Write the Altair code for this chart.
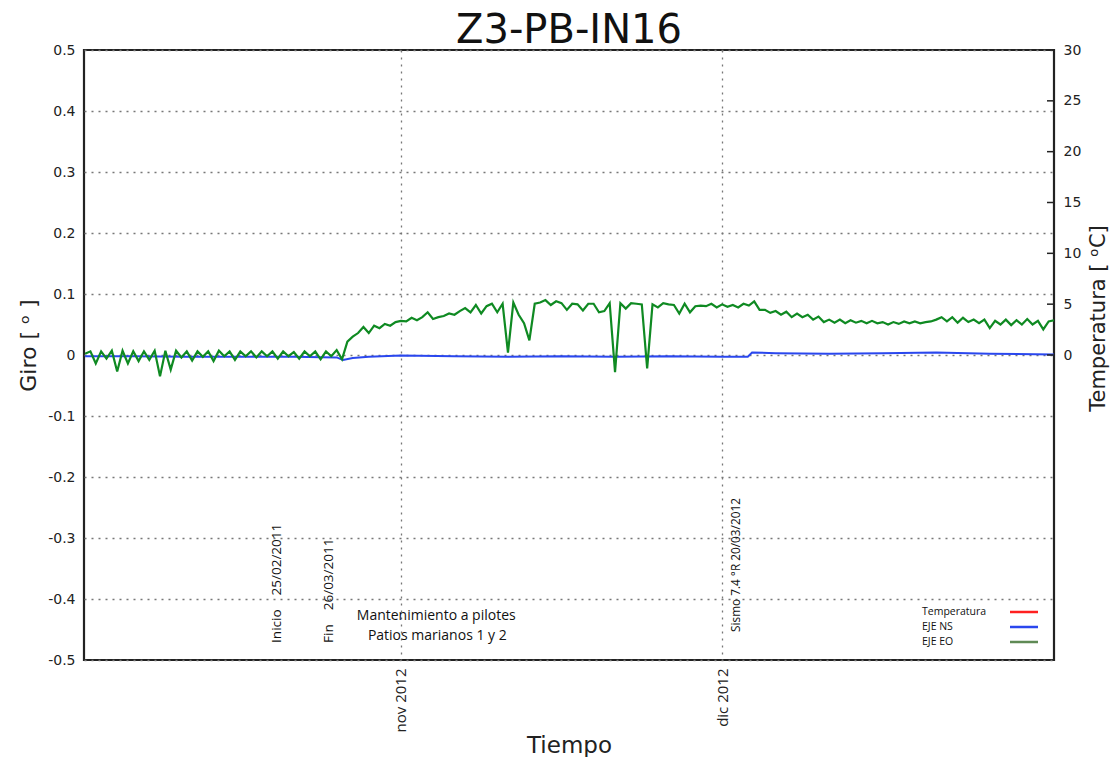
import altair as alt
import pandas as pd

# ---------------- data ----------------
# days relative to 1 nov 2012 ; EJE EO sampled every half day from day -29.5
eo_dia_inicio = -29.5
eo_paso = 0.5
eje_eo = [
    0.002, 0.006, -0.014, 0.006, -0.006, 0.007, -0.027, 0.007, -0.014, 0.006,
    -0.010, 0.006, -0.008, 0.007, -0.035, 0.007, -0.024, 0.007, -0.004, 0.006,
    -0.009, 0.006, -0.003, 0.006, -0.010, 0.007, -0.002, 0.006, -0.008, 0.006,
    -0.002, 0.006, -0.004, 0.006, -0.002, 0.006, -0.006, 0.006, -0.002, 0.005,
    -0.006, 0.006, -0.002, 0.006, -0.007, 0.006, -0.002, 0.008, -0.007, 0.022,
    0.030, 0.036, 0.046, 0.036, 0.048, 0.044, 0.051, 0.048, 0.054, 0.056,
    0.055, 0.061, 0.057, 0.062, 0.070, 0.059, 0.062, 0.064, 0.068, 0.066,
    0.072, 0.077, 0.070, 0.082, 0.068, 0.080, 0.084, 0.070, 0.084, 0.004,
    0.086, 0.066, 0.052, 0.024, 0.084, 0.086, 0.090, 0.082, 0.088, 0.085,
    0.074, 0.084, 0.083, 0.073, 0.084, 0.084, 0.070, 0.072, 0.085, -0.028,
    0.085, 0.076, 0.085, 0.084, 0.083, -0.022, 0.083, 0.078, 0.085, 0.083,
    0.082, 0.068, 0.084, 0.070, 0.080, 0.081, 0.080, 0.084, 0.078, 0.083,
    0.079, 0.082, 0.078, 0.084, 0.081, 0.088, 0.074, 0.074, 0.069, 0.072,
    0.066, 0.071, 0.062, 0.068, 0.062, 0.066, 0.058, 0.063, 0.054, 0.058,
    0.053, 0.058, 0.052, 0.057, 0.053, 0.056, 0.052, 0.056, 0.052, 0.054,
    0.050, 0.054, 0.051, 0.055, 0.052, 0.055, 0.052, 0.054, 0.055, 0.058,
    0.062, 0.055, 0.062, 0.053, 0.061, 0.054, 0.058, 0.052, 0.058, 0.044,
    0.056, 0.050, 0.058, 0.049, 0.057, 0.050, 0.059, 0.050, 0.056, 0.042,
    0.055, 0.057,
]

eje_ns_dia = [-29.5, -25, -20, -15, -10, -6, -5.4, -4.5, -3, 0,
              5, 10, 15, 20, 25, 30, 32.4, 32.8, 35, 40,
              45, 50, 55, 61]
eje_ns = [-0.002, -0.002, -0.003, -0.003, -0.003, -0.004, -0.008, -0.005, -0.003, -0.001,
          -0.002, -0.003, -0.002, -0.003, -0.002, -0.003, -0.003, 0.004, 0.003, 0.002,
          0.003, 0.004, 0.002, 0.001]

x_tick_pos = [0, 30]
x_tick_labels = ["nov 2012", "dic 2012"]
y_ticks = [-0.5, -0.4, -0.3, -0.2, -0.1, 0, 0.1, 0.2, 0.3, 0.4, 0.5]
temp_ticks = [0, 5, 10, 15, 20, 25, 30]

NB = "\u00a0"
vert_text = [f"Inicio{NB*4}25/02/2011", f"Fin{NB*4}26/03/2011"]
vert_dia = [-11.6, -6.75]
vert_giro = [-0.472, -0.472]

sismo_text = ["Sismo 7.4 °R 20/03/2012"]
sismo_dia = [31.3]
sismo_giro = [-0.454]

horiz_text = ["Mantenimiento a pilotes", "Patios marianos 1 y 2"]
horiz_dia = [3.3, 3.4]
horiz_giro = [-0.428, -0.461]

legend_labels = ["Temperatura", "EJE NS", "EJE EO"]
legend_colors = ["#ff2020", "#2a47ee", "#5f8a55"]

# ---------------- frames ----------------
df_eo = pd.DataFrame({"dia": [eo_dia_inicio + eo_paso * i for i in range(len(eje_eo))],
                      "giro": eje_eo})
df_ns = pd.DataFrame({"dia": eje_ns_dia, "giro": eje_ns})
df_vert = pd.DataFrame({"dia": vert_dia, "giro": vert_giro, "t": vert_text})
df_sismo = pd.DataFrame({"dia": sismo_dia, "giro": sismo_giro, "t": sismo_text})
df_horiz = pd.DataFrame({"dia": horiz_dia, "giro": horiz_giro, "t": horiz_text})
df_temp = pd.DataFrame({"temp": temp_ticks})

X_DOMAIN = [-29.6, 61.0]
Y_DOMAIN = [-0.5, 0.5]

label_expr = " : ".join(
    [f"datum.value == {p} ? '{l}'" for p, l in zip(x_tick_pos, x_tick_labels)]
) + " : ''"

x_axis = alt.Axis(
    values=x_tick_pos, labelExpr=label_expr, title="Tiempo",
    grid=True, gridDash=[2, 5], gridColor="#777", gridWidth=1.3,
    ticks=False, domain=False, labelAngle=270, labelAlign="right",
    labelBaseline="middle", labelPadding=8, labelFont="Open Sans",
    labelFontSize=15, labelColor="#222", titleFont="DejaVu Sans",
    titleFontSize=23, titleFontWeight="normal", titleColor="#222",
    titleY=92, titleBaseline="alphabetic",
)
y_axis = alt.Axis(
    values=y_ticks,
    labelExpr=("datum.value == 0 ? '0' : (datum.value < 0 ? '-' + format(-datum.value, '.1f')"
               " : format(datum.value, '.1f'))"),
    title="Giro  [ ᵒ ]", grid=True, gridDash=[2, 5], gridColor="#777",
    gridWidth=1.3, ticks=False, domain=False, labelPadding=9,
    labelFont="DejaVu Sans", labelFontSize=14, labelColor="#222",
    titleFont="DejaVu Sans", titleFontSize=22, titleFontWeight="normal",
    titleColor="#222", titleX=-56, titleY=295, titleBaseline="middle", titleAngle=270,
)

x_scale = alt.Scale(domain=X_DOMAIN, nice=False, zero=False)
y_scale = alt.Scale(domain=Y_DOMAIN, nice=False, zero=False)
X = alt.X("dia:Q", scale=x_scale, axis=x_axis)
Y = alt.Y("giro:Q", scale=y_scale, axis=y_axis)

ns_line = alt.Chart(df_ns).mark_line(color="#2a47ee", strokeWidth=2).encode(x=X, y=Y)
eo_line = alt.Chart(df_eo).mark_line(color="#0f8a22", strokeWidth=2.2).encode(x=X, y=Y)

vert_marks = alt.Chart(df_vert).mark_text(
    angle=270, align="left", baseline="middle", font="Open Sans",
    fontSize=13.5, color="#111").encode(x=X, y=Y, text="t:N")
sismo_marks = alt.Chart(df_sismo).mark_text(
    angle=270, align="left", baseline="middle", font="Open Sans",
    fontSize=11.8, color="#111").encode(x=X, y=Y, text="t:N")
horiz_marks = alt.Chart(df_horiz).mark_text(
    align="center", baseline="middle", font="Open Sans",
    fontSize=14, color="#111").encode(x=X, y=Y, text="t:N")

legend_layers = []
for i, (lab, col) in enumerate(zip(legend_labels, legend_colors)):
    ypix = 562 + 15 * i
    legend_layers.append(
        alt.Chart(alt.Data(values=[{}])).mark_text(
            align="left", baseline="middle", font="Open Sans", fontSize=10.5,
            color="#111").encode(x=alt.value(838), y=alt.value(ypix), text=alt.value(lab)))
    legend_layers.append(
        alt.Chart(alt.Data(values=[{}])).mark_rule(color=col, strokeWidth=2.5).encode(
            x=alt.value(926), x2=alt.value(954), y=alt.value(ypix)))

giro_layer = alt.layer(ns_line, eo_line, vert_marks, sismo_marks, horiz_marks,
                       *legend_layers)

temp_layer = alt.Chart(df_temp).mark_rule(color="#222", strokeWidth=1.5).encode(
    y=alt.Y("temp:Q", scale=alt.Scale(domain=[-30, 30], nice=False, zero=False),
            axis=alt.Axis(orient="right", values=temp_ticks, format="d",
                          title="Temperatura [ ᵒC]", ticks=False, domain=False,
                          grid=False, labelPadding=9, labelFont="DejaVu Sans",
                          labelFontSize=14, labelColor="#222",
                          titleFont="DejaVu Sans", titleFontSize=21,
                          titleFontWeight="normal", titleColor="#222",
                          titleAngle=270, titleX=44, titleY=268,
                          titleBaseline="middle")),
    x=alt.value(963), x2=alt.value(970),
)

chart = alt.layer(giro_layer, temp_layer).resolve_scale(y="independent").properties(
    width=970, height=610,
    background="white",
    autosize=alt.AutoSizeParams(type="none"),
    padding={"left": 76, "top": 42, "right": 56, "bottom": 97},
    title=alt.TitleParams(text="Z3-PB-IN16", fontSize=40, font="DejaVu Sans",
                          fontWeight="normal", color="#111", anchor="middle",
                          offset=6, dy=14),
).configure_view(stroke="#222", strokeWidth=2.2)

chart.save("out.html", embed_options={"renderer": "svg", "actions": False})
